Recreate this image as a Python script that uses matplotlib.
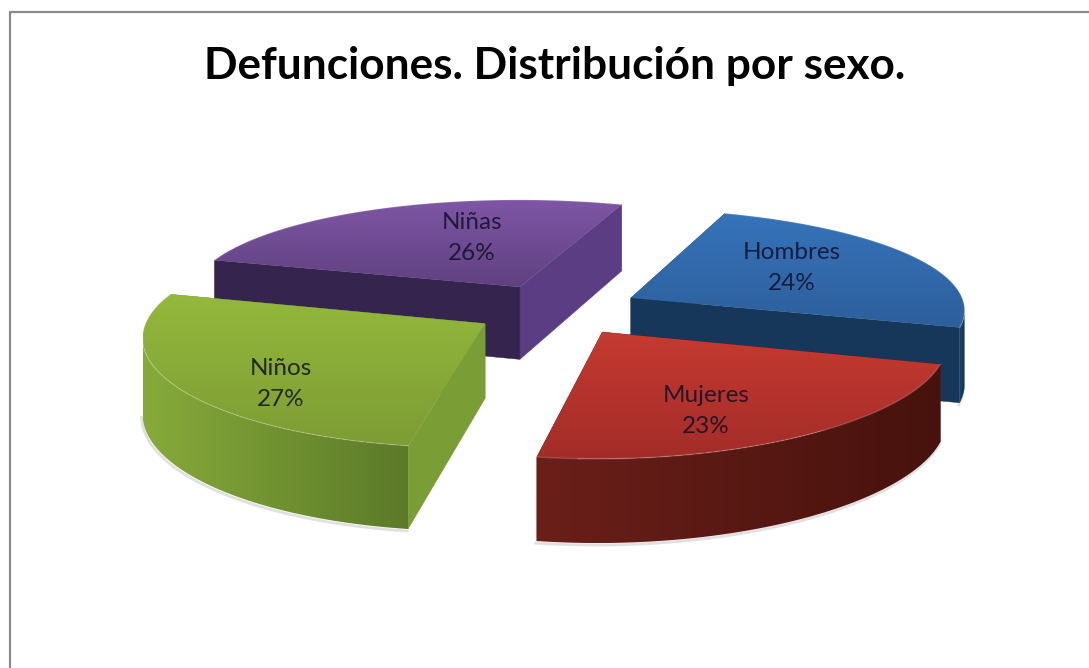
import matplotlib
matplotlib.use("Agg")
import matplotlib.pyplot as plt
from matplotlib.colors import to_rgb
from matplotlib.patches import Polygon
import numpy as np

# data
categories = ["Hombres", "Mujeres", "Niños", "Niñas"]
values = [24, 23, 27, 26]
title = "Defunciones. Distribución por sexo."

# look of the pie
first_angle = 20.0
explode = 0.25
scale = 335.0
tilt = 0.31
persp_x = 0.10
persp_y = 0.13
bend_near = 7.0
bend_far = 3.0
height = 74.0
height_persp = 0.10
cx, cy = 557.0, 309.5

# top colours (upper, lower), radial wall colours (start, end), outer wall (left, right)
top_colors = [("#3673ba", "#2d5f9c"), ("#c63a31", "#a32c28"),
              ("#94b83c", "#7d9c34"), ("#7f56a5", "#5f4180")]
start_wall = ["#1a3c60", "#5a1a16", "#7a9e35", "#34244e"]
end_wall = ["#16375a", "#5a1a16", "#6f8f30", "#5a3d82"]
outer_wall = [("#1a3f66", "#15375a"), ("#6b1f19", "#47120d"),
              ("#87aa3a", "#5c7a29"), ("#3d2a5c", "#3d2a5c")]
label_pos = [(792, 268), (706, 411), (281, 384), (472, 238)]


def project(x, y, z=0.0):
    bend = np.where(np.asarray(y) < 0, bend_near, bend_far)
    sx = cx + scale * x / (1 + persp_x * y) - bend * y ** 2
    sy = cy - scale * tilt * y / (1 + persp_y * y) + z * height / (1 + height_persp * y)
    return sx, sy


def slice_points(a0, a1, n=80):
    mid = np.radians((a0 + a1) / 2)
    ox, oy = explode * np.sin(mid), explode * np.cos(mid)
    t = np.radians(np.linspace(a0, a1, n))
    return ox, oy, ox + np.sin(t), oy + np.cos(t)


def shaded(ax, pts, c_a, c_b, z, vertical=True):
    # polygon filled with a linear gradient, image clipped to the shape
    pts = np.asarray(pts)
    poly = Polygon(pts, closed=True, fc="none", ec="none", zorder=z)
    ax.add_patch(poly)
    c0, c1 = np.array(to_rgb(c_a)), np.array(to_rgb(c_b))
    grad = c0 + (c1 - c0) * np.linspace(0, 1, 128)[:, None]
    img = grad[:, None, :] if vertical else grad[None, :, :]
    im = ax.imshow(img, extent=(pts[:, 0].min(), pts[:, 0].max(), pts[:, 1].max(), pts[:, 1].min()),
                   aspect="auto", zorder=z, interpolation="bilinear")
    im.set_clip_path(poly)


def wall(ax, xa, ya, xb, yb, color, z):
    p = [project(xa, ya), project(xb, yb), project(xb, yb, 1), project(xa, ya, 1)]
    ax.add_patch(Polygon(p, closed=True, fc=color, ec=color, lw=0.3, zorder=z))


fig = plt.figure(figsize=(10.89, 6.68), dpi=100)
ax = fig.add_axes([0, 0, 1, 1])

# chart frame, only left and top show in the picture
ax.plot([10, 10, 1089], [668, 12, 12], color="#8a8a8a", lw=1.6, zorder=1)

shares = np.array(values) / sum(values) * 360
starts = first_angle + np.concatenate([[0], np.cumsum(shares)[:-1]])

# painter's order: back slices first
for n, i in enumerate([3, 0, 2, 1]):
    base = 10 + n * 10
    a0 = starts[i]
    a1 = a0 + shares[i]
    ox, oy, xs, ys = slice_points(a0, a1)

    # the wall that reaches further back is drawn first
    if ys[0] > ys[-1]:
        wall(ax, ox, oy, xs[0], ys[0], start_wall[i], base + 1)
        wall(ax, ox, oy, xs[-1], ys[-1], end_wall[i], base + 1.5)
    else:
        wall(ax, ox, oy, xs[-1], ys[-1], end_wall[i], base + 1)
        wall(ax, ox, oy, xs[0], ys[0], start_wall[i], base + 1.5)

    # outer wall, only the part of the arc that faces the viewer
    sx, sy = project(xs, ys)
    front = np.gradient(sx) < 0
    if front.sum() > 1:
        fx, fy = xs[front], ys[front]
        bx, by = project(fx, fy, 1)
        ax.plot(bx - 1, by + 2, color="#999999", lw=2, alpha=0.3, zorder=base - 1)
        ow = np.r_[np.c_[project(fx, fy)], np.c_[bx, by][::-1]]
        shaded(ax, ow, outer_wall[i][0], outer_wall[i][1], base + 2, vertical=False)

    # top face
    px, py = project(np.r_[ox, xs], np.r_[oy, ys])
    shaded(ax, np.c_[px, py], top_colors[i][0], top_colors[i][1], base + 3)

    # light rim on the outer edge
    ax.plot(sx, sy, color="white", lw=1, alpha=0.18, zorder=base + 4)

    ax.text(label_pos[i][0], label_pos[i][1], f"{categories[i]}\n{values[i]}%",
            ha="center", va="center", fontsize=17.5, family="Lato", color="#10102a",
            alpha=0.85, linespacing=1.58, zorder=100)

ax.set_xlim(0, 1089)
ax.set_ylim(668, 0)
ax.axis("off")
ax.text(555, 78.5, title, ha="center", va="baseline", fontsize=31.8, family="Lato",
        fontweight="bold", color="black", zorder=100)

fig.savefig("out.png", dpi=100)
